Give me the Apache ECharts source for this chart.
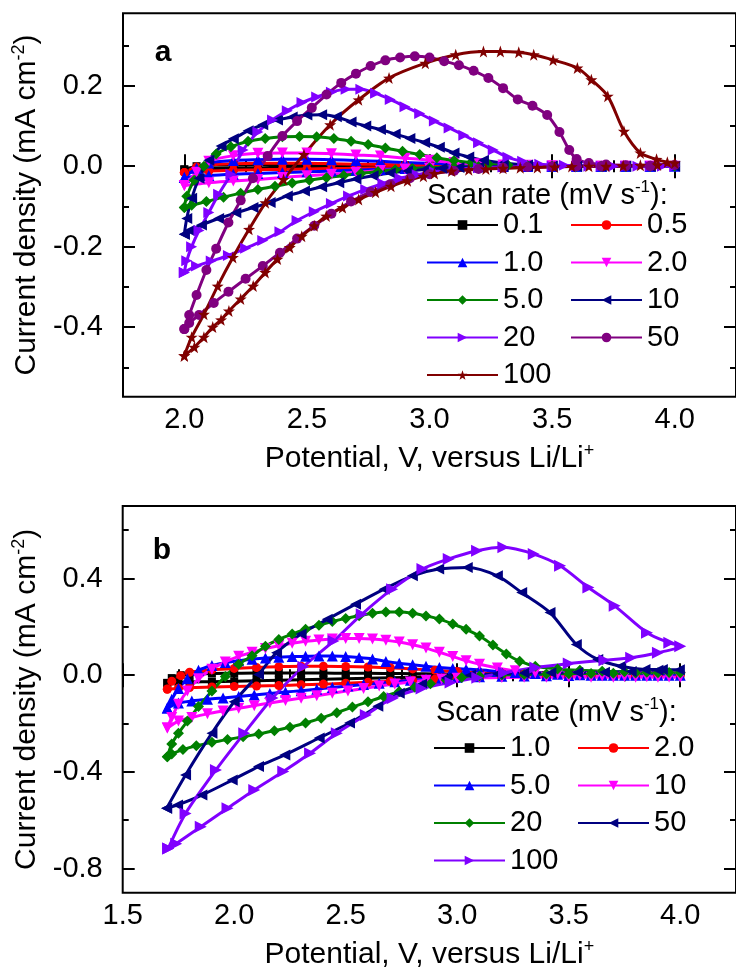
<!DOCTYPE html>
<html>
<head>
<meta charset="utf-8">
<script src="https://cdn.jsdelivr.net/npm/echarts@6/dist/echarts.min.js"></script>
<style>
  html, body { margin: 0; padding: 0; background: #ffffff; }
  #wrap { position: relative; width: 736px; height: 976px; overflow: hidden; }
  #chartA, #chartB { position: absolute; left: 0; width: 736px; height: 488px; }
  #chartA { top: 0; }
  #chartB { top: 488px; }
</style>
</head>
<body>
<div id="wrap"><div id="chartA"></div><div id="chartB"></div></div>
<script>
// ---------- Panel a: scan rates 0.1 - 100 mV/s, window 2.0 - 4.0 V ----------
const ratesA = ['0.1', '0.5', '1.0', '2.0', '5.0', '10', '20', '50', '100'];

// common potential samples for the slow scans (anodic sweep, then cathodic sweep)
const a_slowUpV = [2.0, 2.05, 2.1, 2.2, 2.3, 2.4, 2.5, 2.6, 2.7, 2.8, 2.9, 3.0, 3.1, 3.2, 3.3, 3.4, 3.5, 3.6, 3.7, 3.8, 3.9, 4.0];
const a_slowDnV = [3.9, 3.8, 3.7, 3.6, 3.5, 3.4, 3.3, 3.2, 3.1, 3.0, 2.9, 2.8, 2.7, 2.6, 2.5, 2.4, 2.3, 2.2, 2.1, 2.0];

const a01_upI = [-0.008, 0.0, 0.002, 0.003, 0.003, 0.003, 0.003, 0.003, 0.002, 0.002, 0.002, 0.001, 0.001, 0.001, 0.001, 0, 0, 0, 0, 0, 0, 0];
const a01_dnI = [0, 0, 0, 0, 0, -0.001, -0.001, -0.001, -0.001, -0.002, -0.002, -0.002, -0.003, -0.003, -0.004, -0.004, -0.005, -0.005, -0.006, -0.008];

const a05_upI = [-0.016, -0.002, 0.003, 0.006, 0.007, 0.007, 0.007, 0.006, 0.005, 0.004, 0.003, 0.002, 0.001, 0.001, 0, 0, 0, 0, 0, 0, 0, 0];
const a05_dnI = [0, 0, 0, 0, 0, 0, -0.001, -0.001, -0.002, -0.002, -0.003, -0.004, -0.005, -0.006, -0.007, -0.008, -0.009, -0.01, -0.012, -0.016];

const a1_upI = [-0.028, -0.005, 0.008, 0.014, 0.016, 0.017, 0.017, 0.016, 0.014, 0.012, 0.009, 0.007, 0.005, 0.003, 0.002, 0.001, 0, 0, 0, 0, 0, 0];
const a1_dnI = [0, 0, 0, 0, 0, -0.001, -0.001, -0.002, -0.003, -0.004, -0.006, -0.008, -0.01, -0.012, -0.014, -0.016, -0.018, -0.02, -0.023, -0.028];

const a2_upI = [-0.048, -0.015, 0.012, 0.026, 0.032, 0.033, 0.033, 0.031, 0.028, 0.025, 0.02, 0.015, 0.009, 0.006, 0.003, 0.002, 0.001, 0, 0, 0, 0, 0];
const a2_dnI = [0, 0, 0, 0, 0, -0.001, -0.001, -0.002, -0.003, -0.005, -0.007, -0.011, -0.015, -0.02, -0.024, -0.028, -0.033, -0.037, -0.041, -0.048];

const a5_upV = [2.0, 2.01, 2.04, 2.08, 2.13, 2.19, 2.26, 2.33, 2.4, 2.47, 2.54, 2.61, 2.68, 2.75, 2.82, 2.89, 2.96, 3.03, 3.1, 3.17, 3.24, 3.32, 3.4, 3.5, 3.6, 3.7, 3.8, 3.9, 4.0];
const a5_upI = [-0.103, -0.075, -0.035, 0.0, 0.03, 0.048, 0.062, 0.069, 0.073, 0.074, 0.073, 0.069, 0.062, 0.054, 0.045, 0.037, 0.029, 0.021, 0.014, 0.009, 0.005, 0.003, 0.001, 0, 0, 0, 0, 0, 0];
const a5_dnV = [3.9, 3.8, 3.7, 3.6, 3.5, 3.4, 3.3, 3.2, 3.1, 3.0, 2.93, 2.86, 2.79, 2.72, 2.65, 2.58, 2.51, 2.44, 2.37, 2.3, 2.23, 2.16, 2.09, 2.03, 2.0];
const a5_dnI = [0, 0, 0, 0, 0, 0, 0, -0.001, -0.002, -0.004, -0.006, -0.009, -0.013, -0.018, -0.023, -0.029, -0.035, -0.042, -0.05, -0.058, -0.067, -0.077, -0.088, -0.097, -0.103];

const a10_upV = [2.0, 2.01, 2.03, 2.06, 2.1, 2.15, 2.2, 2.26, 2.32, 2.38, 2.44, 2.5, 2.56, 2.62, 2.68, 2.74, 2.8, 2.86, 2.92, 2.98, 3.04, 3.1, 3.16, 3.22, 3.3, 3.4, 3.5, 3.6, 3.7, 3.8, 3.9, 4.0];
const a10_upI = [-0.169, -0.13, -0.08, -0.03, 0.015, 0.05, 0.068, 0.088, 0.103, 0.115, 0.122, 0.127, 0.128, 0.123, 0.11, 0.1, 0.091, 0.08, 0.069, 0.059, 0.047, 0.033, 0.023, 0.015, 0.008, 0.003, 0, 0, 0, 0, 0, 0];
const a10_dnV = [3.9, 3.8, 3.7, 3.6, 3.5, 3.4, 3.3, 3.2, 3.12, 3.05, 2.98, 2.91, 2.84, 2.77, 2.7, 2.63, 2.56, 2.49, 2.42, 2.35, 2.28, 2.21, 2.14, 2.07, 2.02, 2.0];
const a10_dnI = [0, 0, 0, 0, 0, 0, -0.001, -0.002, -0.003, -0.005, -0.008, -0.012, -0.017, -0.024, -0.032, -0.041, -0.051, -0.062, -0.074, -0.09, -0.103, -0.116, -0.13, -0.146, -0.16, -0.169];

const a20_upV = [2.0, 2.01, 2.03, 2.06, 2.1, 2.14, 2.19, 2.24, 2.3, 2.36, 2.42, 2.48, 2.54, 2.6, 2.66, 2.72, 2.78, 2.84, 2.9, 2.96, 3.02, 3.08, 3.14, 3.2, 3.26, 3.32, 3.38, 3.45, 3.55, 3.65, 3.75, 3.85, 3.95, 4.0];
const a20_upI = [-0.264, -0.235, -0.2, -0.16, -0.115, -0.07, -0.02, 0.04, 0.085, 0.115, 0.138, 0.158, 0.172, 0.184, 0.191, 0.191, 0.181, 0.166, 0.148, 0.131, 0.112, 0.095, 0.077, 0.058, 0.04, 0.022, 0.012, 0.005, 0.002, 0, 0, 0, 0, 0];
const a20_dnV = [3.9, 3.8, 3.7, 3.6, 3.5, 3.4, 3.3, 3.2, 3.1, 3.02, 2.95, 2.88, 2.81, 2.74, 2.67, 2.6, 2.53, 2.46, 2.39, 2.32, 2.25, 2.18, 2.11, 2.05, 2.0];
const a20_dnI = [0, 0, 0, 0, 0, -0.001, -0.002, -0.004, -0.008, -0.014, -0.021, -0.03, -0.043, -0.058, -0.074, -0.093, -0.113, -0.135, -0.163, -0.185, -0.204, -0.222, -0.236, -0.248, -0.264];

const a50_upV = [2.0, 2.02, 2.05, 2.09, 2.13, 2.18, 2.23, 2.28, 2.34, 2.4, 2.46, 2.52, 2.58, 2.64, 2.7, 2.76, 2.82, 2.88, 2.94, 3.0, 3.06, 3.12, 3.18, 3.24, 3.3, 3.36, 3.42, 3.48, 3.53, 3.57, 3.6, 3.65, 3.72, 3.8, 3.9, 4.0];
const a50_upI = [-0.405, -0.37, -0.32, -0.258, -0.205, -0.14, -0.085, -0.03, 0.025, 0.075, 0.112, 0.145, 0.178, 0.207, 0.23, 0.249, 0.263, 0.27, 0.273, 0.27, 0.261, 0.251, 0.237, 0.219, 0.194, 0.166, 0.15, 0.127, 0.085, 0.04, 0.018, 0.008, 0.004, 0.002, 0.001, 0.003];
const a50_dnV = [3.9, 3.8, 3.7, 3.6, 3.5, 3.4, 3.3, 3.2, 3.1, 3.0, 2.92, 2.84, 2.76, 2.68, 2.6, 2.53, 2.46, 2.39, 2.32, 2.25, 2.18, 2.12, 2.06, 2.02, 2.0];
const a50_dnI = [0, 0, 0, 0, -0.001, -0.002, -0.004, -0.007, -0.012, -0.02, -0.03, -0.045, -0.064, -0.088, -0.118, -0.148, -0.18, -0.215, -0.248, -0.28, -0.312, -0.34, -0.37, -0.39, -0.405];

const a100_upV = [2.0, 2.03, 2.08, 2.136, 2.198, 2.264, 2.331, 2.405, 2.488, 2.595, 2.711, 2.835, 2.983, 3.107, 3.22, 3.289, 3.364, 3.425, 3.504, 3.603, 3.66, 3.727, 3.793, 3.86, 3.926, 3.97, 4.0];
const a100_upI = [-0.471, -0.425, -0.368, -0.298, -0.227, -0.157, -0.091, -0.033, 0.029, 0.103, 0.165, 0.219, 0.256, 0.277, 0.285, 0.285, 0.283, 0.277, 0.264, 0.244, 0.215, 0.174, 0.087, 0.033, 0.017, 0.01, 0.008];
const a100_dnV = [3.93, 3.86, 3.79, 3.72, 3.65, 3.58, 3.51, 3.44, 3.37, 3.3, 3.23, 3.16, 3.09, 3.02, 2.975, 2.91, 2.843, 2.78, 2.711, 2.645, 2.579, 2.53, 2.479, 2.43, 2.38, 2.33, 2.281, 2.23, 2.182, 2.15, 2.116, 2.08, 2.041, 2.0];
const a100_dnI = [0.003, 0.002, 0.001, 0, 0, -0.001, -0.002, -0.003, -0.004, -0.005, -0.007, -0.009, -0.012, -0.018, -0.025, -0.036, -0.05, -0.065, -0.083, -0.103, -0.124, -0.148, -0.174, -0.202, -0.231, -0.264, -0.298, -0.33, -0.36, -0.382, -0.4, -0.425, -0.45, -0.471];

// ---------- Panel b: scan rates 1.0 - 100 mV/s, window 1.7 - 4.0 V ----------
const ratesB = ['1.0', '2.0', '5.0', '10', '20', '50', '100'];

const b_slowUpV = [1.7, 1.72, 1.76, 1.8, 1.9, 2.0, 2.1, 2.2, 2.3, 2.4, 2.5, 2.6, 2.7, 2.8, 2.9, 3.0, 3.1, 3.2, 3.3, 3.4, 3.5, 3.6, 3.7, 3.8, 3.9, 4.0];
const b_slowDnV = [3.9, 3.8, 3.7, 3.6, 3.5, 3.4, 3.3, 3.2, 3.1, 3.0, 2.9, 2.8, 2.7, 2.6, 2.5, 2.4, 2.3, 2.2, 2.1, 2.0, 1.9, 1.8, 1.75, 1.7];

const b1_upI = [-0.032, -0.012, 0.0, 0.004, 0.007, 0.008, 0.009, 0.009, 0.009, 0.009, 0.008, 0.008, 0.007, 0.006, 0.005, 0.004, 0.003, 0.002, 0.002, 0.001, 0.001, 0, 0, 0, 0, 0];
const b1_dnI = [0, 0, 0, 0, -0.001, -0.001, -0.002, -0.003, -0.004, -0.005, -0.007, -0.009, -0.011, -0.013, -0.015, -0.017, -0.019, -0.021, -0.023, -0.025, -0.027, -0.028, -0.03, -0.032];

const b2_upI = [-0.057, -0.025, -0.002, 0.012, 0.022, 0.028, 0.032, 0.035, 0.037, 0.037, 0.036, 0.034, 0.031, 0.026, 0.02, 0.015, 0.01, 0.007, 0.004, 0.002, 0.001, 0, 0, 0, 0, 0];
const b2_dnI = [0, 0, 0, -0.001, -0.002, -0.003, -0.005, -0.007, -0.01, -0.013, -0.017, -0.021, -0.025, -0.029, -0.033, -0.037, -0.04, -0.043, -0.045, -0.047, -0.049, -0.051, -0.054, -0.058];

const b_midUpV = [1.7, 1.72, 1.75, 1.79, 1.84, 1.9, 1.96, 2.02, 2.08, 2.14, 2.2, 2.26, 2.32, 2.38, 2.44, 2.5, 2.56, 2.62, 2.68, 2.74, 2.8, 2.86, 2.92, 2.98, 3.04, 3.1, 3.18, 3.26, 3.35, 3.45, 3.55, 3.65, 3.75, 3.85, 3.95, 4.0];
const b_midDnV = [3.9, 3.8, 3.7, 3.6, 3.5, 3.4, 3.3, 3.2, 3.1, 3.0, 2.93, 2.86, 2.79, 2.72, 2.65, 2.58, 2.51, 2.44, 2.37, 2.3, 2.23, 2.16, 2.09, 2.02, 1.95, 1.88, 1.81, 1.75, 1.7];

const b5_upI = [-0.136, -0.1, -0.055, -0.015, 0.02, 0.04, 0.052, 0.06, 0.066, 0.071, 0.074, 0.077, 0.078, 0.079, 0.079, 0.077, 0.073, 0.067, 0.057, 0.049, 0.043, 0.037, 0.032, 0.028, 0.025, 0.022, 0.016, 0.011, 0.007, 0.004, 0.002, 0, 0, 0, 0, 0];
const b5_dnI = [0, 0, 0, 0, -0.001, -0.002, -0.003, -0.004, -0.006, -0.009, -0.012, -0.016, -0.021, -0.027, -0.033, -0.039, -0.045, -0.051, -0.058, -0.064, -0.07, -0.076, -0.082, -0.088, -0.094, -0.1, -0.107, -0.115, -0.136];

const b10_upI = [-0.219, -0.175, -0.12, -0.065, -0.015, 0.025, 0.055, 0.078, 0.095, 0.11, 0.122, 0.132, 0.14, 0.146, 0.15, 0.152, 0.152, 0.15, 0.145, 0.137, 0.126, 0.112, 0.095, 0.077, 0.06, 0.045, 0.03, 0.018, 0.01, 0.004, 0.0, -0.003, -0.005, -0.006, -0.008, -0.009];
const b10_dnI = [-0.009, -0.009, -0.009, -0.009, -0.009, -0.009, -0.009, -0.01, -0.011, -0.013, -0.016, -0.021, -0.028, -0.036, -0.045, -0.055, -0.065, -0.075, -0.085, -0.095, -0.105, -0.115, -0.126, -0.137, -0.148, -0.16, -0.175, -0.19, -0.219];

const b20_upV = [1.7, 1.72, 1.75, 1.79, 1.84, 1.9, 1.96, 2.02, 2.08, 2.14, 2.2, 2.26, 2.32, 2.38, 2.44, 2.5, 2.56, 2.62, 2.68, 2.74, 2.8, 2.86, 2.92, 2.98, 3.04, 3.1, 3.16, 3.22, 3.28, 3.35, 3.45, 3.55, 3.65, 3.75, 3.85, 3.95, 4.0];
const b20_upI = [-0.337, -0.285, -0.24, -0.19, -0.13, -0.065, -0.005, 0.045, 0.08, 0.12, 0.148, 0.17, 0.19, 0.207, 0.222, 0.235, 0.246, 0.256, 0.261, 0.261, 0.256, 0.245, 0.232, 0.212, 0.19, 0.162, 0.125, 0.088, 0.058, 0.037, 0.026, 0.02, 0.016, 0.014, 0.012, 0.011, 0.01];
const b20_dnV = [3.9, 3.8, 3.7, 3.6, 3.5, 3.4, 3.3, 3.2, 3.1, 3.02, 2.95, 2.88, 2.81, 2.74, 2.67, 2.6, 2.53, 2.46, 2.39, 2.32, 2.25, 2.18, 2.11, 2.04, 1.97, 1.9, 1.83, 1.77, 1.72, 1.7];
const b20_dnI = [0.01, 0.009, 0.008, 0.007, 0.006, 0.005, 0.003, 0.001, -0.003, -0.01, -0.02, -0.035, -0.05, -0.068, -0.088, -0.11, -0.132, -0.155, -0.178, -0.198, -0.215, -0.23, -0.243, -0.255, -0.266, -0.278, -0.292, -0.308, -0.326, -0.337];

const b50_upV = [1.697, 1.782, 1.9, 2.0, 2.109, 2.19, 2.3, 2.417, 2.544, 2.672, 2.799, 2.917, 3.045, 3.18, 3.289, 3.416, 3.534, 3.63, 3.733, 3.842, 3.92, 3.996];
const b50_upI = [-0.551, -0.413, -0.24, -0.11, 0.003, 0.093, 0.17, 0.231, 0.294, 0.356, 0.411, 0.439, 0.446, 0.411, 0.342, 0.259, 0.127, 0.065, 0.037, 0.024, 0.023, 0.022];
const b50_dnV = [3.9, 3.78, 3.66, 3.54, 3.42, 3.3, 3.18, 3.06, 2.95, 2.84, 2.74, 2.644, 2.517, 2.381, 2.227, 2.109, 1.991, 1.855, 1.746, 1.697];
const b50_dnI = [0.02, 0.015, 0.012, 0.011, 0.01, 0.009, 0.006, 0.001, -0.012, -0.038, -0.075, -0.129, -0.198, -0.26, -0.33, -0.378, -0.434, -0.496, -0.537, -0.551];

const b100_upV = [1.704, 1.782, 1.918, 2.045, 2.172, 2.31, 2.445, 2.572, 2.708, 2.844, 2.962, 3.089, 3.207, 3.343, 3.461, 3.588, 3.706, 3.851, 3.951, 4.0];
const b100_upI = [-0.717, -0.572, -0.392, -0.24, -0.094, 0.035, 0.141, 0.252, 0.356, 0.439, 0.481, 0.515, 0.529, 0.501, 0.453, 0.363, 0.287, 0.176, 0.134, 0.12];
const b100_dnV = [3.9, 3.78, 3.66, 3.5, 3.35, 3.21, 3.09, 2.97, 2.84, 2.71, 2.59, 2.46, 2.34, 2.22, 2.09, 1.97, 1.85, 1.74, 1.704];
const b100_dnI = [0.093, 0.072, 0.062, 0.048, 0.032, 0.01, -0.011, -0.03, -0.055, -0.095, -0.165, -0.24, -0.323, -0.399, -0.475, -0.551, -0.627, -0.697, -0.717];

// ---------- axis ticks ----------
const a_xMajor = [2.0, 2.5, 3.0, 3.5, 4.0];
const a_xMinor = [2.25, 2.75, 3.25, 3.75];
const a_yMajor = [-0.4, -0.2, 0.0, 0.2];
const a_yMinor = [-0.5, -0.3, -0.1, 0.1, 0.3];
const b_xMajor = [1.5, 2.0, 2.5, 3.0, 3.5, 4.0];
const b_xMinor = [1.75, 2.25, 2.75, 3.25, 3.75];
const b_yMajor = [-0.8, -0.4, 0.0, 0.4];
const b_yMinor = [-0.6, -0.2, 0.2, 0.6];

// ---------- drawing ----------
const FONT = "'Liberation Sans', Arial, Helvetica, sans-serif";
const STAR = 'path://M0,-10L2.35,-3.24L9.51,-3.09L3.8,1.23L5.88,8.09L0,4L-5.88,8.09L-3.8,1.23L-9.51,-3.09L-2.35,-3.24Z';

function loop(upV, upI, dnV, dnI) {
  const pts = [];
  for (let i = 0; i < upV.length; i++) pts.push([upV[i], upI[i]]);
  for (let i = 0; i < dnV.length; i++) pts.push([dnV[i], dnI[i]]);
  return pts;
}

function cv(name, color, symbol, rotate, size, data) {
  return {
    name: name, type: 'line', data: data,
    xAxisIndex: 0, yAxisIndex: 0,
    smooth: 0.3,
    symbol: symbol, symbolRotate: rotate, symbolSize: size,
    showSymbol: true,
    lineStyle: { color: color, width: 3 },
    itemStyle: { color: color },
    emphasis: { disabled: true },
    animation: false
  };
}

const richName = (size) => ({
  t: { fontSize: size, fontFamily: FONT, color: '#000', lineHeight: 34 },
  s: { fontSize: Math.round(size * 0.6), fontFamily: FONT, color: '#000', lineHeight: 20, verticalAlign: 'top' }
});

function tickAxis(kind, pos, min, max, values, len, withLabel, extra) {
  const ax = {
    type: 'value', min: min, max: max, position: pos,
    axisLine: { show: false },
    splitLine: { show: false },
    axisTick: { show: true, inside: true, length: len, customValues: values, lineStyle: { color: '#000', width: 2 } },
    axisLabel: { show: false }
  };
  if (withLabel) {
    ax.axisLabel = {
      show: true, customValues: values,
      formatter: (v) => Number(v).toFixed(1),
      fontSize: 29, fontFamily: FONT, color: '#000',
      margin: kind === 'x' ? 9 : 20
    };
  }
  return Object.assign(ax, extra || {});
}

function buildOption(cfg) {
  const xName = {
    name: '{t|Potential, V, versus Li/Li}{s|+}',
    nameLocation: 'middle', nameGap: 45,
    nameTextStyle: { rich: richName(30) }
  };
  const yName = {
    name: '{t|Current density (mA cm}{s|-2}{t|)}',
    nameLocation: 'middle', nameGap: 77,
    nameTextStyle: { rich: richName(30) }
  };
  return {
    animation: false,
    grid: {
      left: cfg.grid.left, top: cfg.grid.top, width: cfg.grid.width, height: cfg.grid.height,
      show: true, borderColor: '#000', borderWidth: 2, backgroundColor: 'transparent'
    },
    xAxis: [
      tickAxis('x', 'bottom', cfg.xr[0], cfg.xr[1], cfg.xMajor, 12, true, xName),
      tickAxis('x', 'bottom', cfg.xr[0], cfg.xr[1], cfg.xMinor, 6, false),
      tickAxis('x', 'top', cfg.xr[0], cfg.xr[1], cfg.xMajor, 12, false),
      tickAxis('x', 'top', cfg.xr[0], cfg.xr[1], cfg.xMinor, 6, false)
    ],
    yAxis: [
      tickAxis('y', 'left', cfg.yr[0], cfg.yr[1], cfg.yMajor, 12, true, yName),
      tickAxis('y', 'left', cfg.yr[0], cfg.yr[1], cfg.yMinor, 6, false),
      tickAxis('y', 'right', cfg.yr[0], cfg.yr[1], cfg.yMajor, 12, false),
      tickAxis('y', 'right', cfg.yr[0], cfg.yr[1], cfg.yMinor, 6, false)
    ],
    legend: cfg.legendCols.map((col) => ({
      data: col.names, orient: 'vertical', left: col.left, top: cfg.legendTop,
      padding: 0, itemWidth: 71, itemHeight: 12, itemGap: 7.5,
      selectedMode: false,
      textStyle: { fontSize: 29, fontFamily: FONT, color: '#000', lineHeight: 30 }
    })),
    graphic: [
      { type: 'text', silent: true, style: { text: cfg.tag, x: cfg.tagXY[0], y: cfg.tagXY[1], font: 'bold 30px ' + FONT, fill: '#000', align: 'center', verticalAlign: 'middle' } },
      { type: 'text', silent: true, style: { text: '{t|Scan rate (mV s}{s|-1}{t|):}', rich: richName(29), x: cfg.titleXY[0], y: cfg.titleXY[1], align: 'left', verticalAlign: 'middle' } }
    ],
    series: cfg.series
  };
}

const optA = buildOption({
  grid: { left: 123, top: 13.3, width: 614, height: 383.4 },
  xr: [1.75, 4.25], yr: [-0.573, 0.38],
  xMajor: a_xMajor, xMinor: a_xMinor, yMajor: a_yMajor, yMinor: a_yMinor,
  legendTop: 210,
  legendCols: [
    { left: 426, names: [ratesA[0], ratesA[2], ratesA[4], ratesA[6], ratesA[8]] },
    { left: 570, names: [ratesA[1], ratesA[3], ratesA[5], ratesA[7]] }
  ],
  tag: 'a', tagXY: [163, 53],
  titleXY: [427, 196],
  series: [
    cv(ratesA[0], '#000000', 'rect', 0, 8, loop(a_slowUpV, a01_upI, a_slowDnV, a01_dnI)),
    cv(ratesA[1], '#ff0000', 'circle', 0, 9, loop(a_slowUpV, a05_upI, a_slowDnV, a05_dnI)),
    cv(ratesA[2], '#0000ff', 'triangle', 0, 11, loop(a_slowUpV, a1_upI, a_slowDnV, a1_dnI)),
    cv(ratesA[3], '#ff00ff', 'triangle', 180, 11, loop(a_slowUpV, a2_upI, a_slowDnV, a2_dnI)),
    cv(ratesA[4], '#008000', 'diamond', 0, 11, loop(a5_upV, a5_upI, a5_dnV, a5_dnI)),
    cv(ratesA[5], '#000080', 'triangle', 90, 11, loop(a10_upV, a10_upI, a10_dnV, a10_dnI)),
    cv(ratesA[6], '#8000ff', 'triangle', -90, 11, loop(a20_upV, a20_upI, a20_dnV, a20_dnI)),
    cv(ratesA[7], '#800080', 'circle', 0, 10, loop(a50_upV, a50_upI, a50_dnV, a50_dnI)),
    cv(ratesA[8], '#800000', STAR, 0, 12, loop(a100_upV, a100_upI, a100_dnV, a100_dnI))
  ]
});

const optB = buildOption({
  grid: { left: 122.7, top: 18, width: 618, height: 386.7 },
  xr: [1.5, 4.25], yr: [-0.9, 0.7],
  xMajor: b_xMajor, xMinor: b_xMinor, yMajor: b_yMajor, yMinor: b_yMinor,
  legendTop: 245,
  legendCols: [
    { left: 433, names: [ratesB[0], ratesB[2], ratesB[4], ratesB[6]] },
    { left: 577, names: [ratesB[1], ratesB[3], ratesB[5]] }
  ],
  tag: 'b', tagXY: [162, 63],
  titleXY: [436, 225],
  series: [
    cv(ratesB[0], '#000000', 'rect', 0, 8, loop(b_slowUpV, b1_upI, b_slowDnV, b1_dnI)),
    cv(ratesB[1], '#ff0000', 'circle', 0, 9, loop(b_slowUpV, b2_upI, b_slowDnV, b2_dnI)),
    cv(ratesB[2], '#0000ff', 'triangle', 0, 11, loop(b_midUpV, b5_upI, b_midDnV, b5_dnI)),
    cv(ratesB[3], '#ff00ff', 'triangle', 180, 11, loop(b_midUpV, b10_upI, b_midDnV, b10_dnI)),
    cv(ratesB[4], '#008000', 'diamond', 0, 11, loop(b20_upV, b20_upI, b20_dnV, b20_dnI)),
    cv(ratesB[5], '#000080', 'triangle', 90, 11, loop(b50_upV, b50_upI, b50_dnV, b50_dnI)),
    cv(ratesB[6], '#8000ff', 'triangle', -90, 12, loop(b100_upV, b100_upI, b100_dnV, b100_dnI))
  ]
});

echarts.init(document.getElementById('chartA'), null, { renderer: 'canvas' }).setOption(optA);
echarts.init(document.getElementById('chartB'), null, { renderer: 'canvas' }).setOption(optB);
</script>
</body>
</html>
